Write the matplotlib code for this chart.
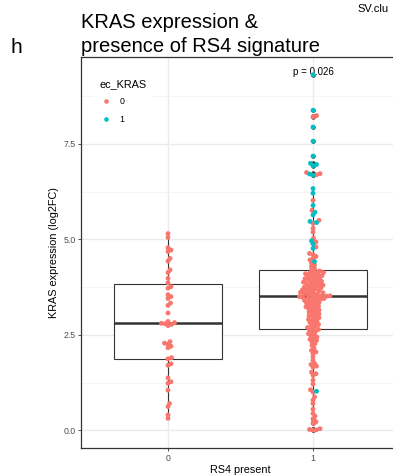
import numpy as np
import matplotlib
matplotlib.use("Agg")
import matplotlib.pyplot as plt
from matplotlib.lines import Line2D

plt.rcParams['font.family'] = ['Liberation Sans', 'DejaVu Sans']

# KRAS expression (log2FC) per sample, split by RS4 presence and ec_KRAS status
rs4_absent_ec0 = [5.15, 5.05, 4.78, 4.72, 4.68, 4.5, 4.43, 4.2, 4.13, 3.98, 3.86,
                  3.76, 3.72, 3.55, 3.5, 3.45, 3.33, 3.27, 3.07, 2.85, 2.82, 2.8,
                  2.79, 2.77, 2.74, 2.32, 2.28, 2.25, 2.2, 2.16, 1.9, 1.87, 1.74,
                  1.7, 1.37, 1.27, 1.23, 1.05, 0.7, 0.62, 0.4, 0.31]

rs4_present_ec1 = [9.31, 8.38, 7.94, 7.57, 7.18, 6.99, 6.96, 6.93, 6.71, 6.68, 6.33,
                   6.21, 5.89, 5.71, 5.64, 5.47, 5.44, 4.96, 4.88, 4.76, 4.42, 1.02]

rs4_present_ec0 = [8.24, 8.21, 6.75, 6.72, 6.69, 6.02, 5.76, 5.5, 5.42, 5.29, 5.19,
                   5.03, 4.93, 4.8, 4.63, 4.6, 4.55, 4.5, 4.46, 4.38, 4.33, 4.29,
                   4.24, 4.2, 4.17,
                   4.15, 4.13, 4.12, 4.1, 4.09, 4.07, 4.05, 4.04, 4.02, 4.0, 3.99,
                   3.97, 3.95, 3.94, 3.92, 3.9, 3.89, 3.88, 3.86, 3.84, 3.83, 3.81,
                   3.8, 3.78, 3.77, 3.75, 3.74, 3.73, 3.71, 3.7, 3.68, 3.67, 3.66,
                   3.64, 3.63, 3.61, 3.6, 3.58, 3.58, 3.57, 3.55, 3.54, 3.52, 3.52,
                   3.51, 3.5, 3.49, 3.48, 3.47, 3.46, 3.45, 3.43, 3.42, 3.4, 3.39,
                   3.37, 3.35, 3.33, 3.31, 3.29, 3.27, 3.25, 3.23, 3.21, 3.19, 3.17,
                   3.15, 3.12, 3.1, 3.08, 3.05, 3.03, 3.0, 2.98, 2.95, 2.93, 2.9,
                   2.88, 2.85, 2.82, 2.8, 2.77, 2.74, 2.72, 2.69, 2.66, 2.64, 2.62,
                   2.59, 2.56, 2.53, 2.5, 2.47, 2.44, 2.41, 2.38, 2.35, 2.31, 2.27,
                   2.22, 2.15, 2.09, 2.05, 2.01, 1.92, 1.83, 1.75, 1.72, 1.68, 1.65,
                   1.52, 1.48, 1.44, 1.31, 1.21, 1.06, 1.0, 0.87, 0.79, 0.7, 0.55,
                   0.44, 0.37, 0.3, 0.22, 0.18, 0.04, 0.02, 0.01, 0.0]

groups = ['0', '1']
p_label = 'p = 0.026'
col_ec = {0: '#F8766D', 1: '#00BFC4'}

W, H = 393, 475
AX_L, AX_B, AX_W, AX_H = 81, 27, 319, 391


def swarm(values, px_y, px_x, diam=3.3, step=0.5):
    """beeswarm-style horizontal offsets (data units) so dots don't collide"""
    y = np.asarray(values) * px_y
    xs = np.zeros(len(y))
    placed = []
    for i in np.argsort(y):
        cands = [0.0]
        for k in range(1, 80):
            cands += [k * step, -k * step]
        for c in cands:
            ok = True
            for (px, py) in placed:
                if abs(py - y[i]) < diam and (px - c) ** 2 + (py - y[i]) ** 2 < diam ** 2:
                    ok = False
                    break
            if ok:
                xs[i] = c
                placed.append((c, y[i]))
                break
    return xs / px_x


fig = plt.figure(figsize=(W / 100, H / 100), dpi=100)
ax = fig.add_axes([AX_L / W, AX_B / H, AX_W / W, AX_H / H])

allv = rs4_absent_ec0 + rs4_present_ec1 + rs4_present_ec0
lo, hi = min(allv), max(allv)
pad = 0.05 * (hi - lo)
ax.set_ylim(lo - pad, hi + pad)
ax.set_xlim(-0.6, 1.6)
px_y = AX_H / (hi - lo + 2 * pad)
px_x = AX_W / 2.2

# boxplots
g1 = rs4_present_ec1 + rs4_present_ec0
ax.boxplot([rs4_absent_ec0, g1], positions=[0, 1], widths=0.75, whis=1.5,
           patch_artist=True, showcaps=False, zorder=2,
           boxprops=dict(facecolor='white', edgecolor='#333333', linewidth=0.8),
           whiskerprops=dict(color='#333333', linewidth=0.8),
           medianprops=dict(color='#333333', linewidth=1.8),
           flierprops=dict(marker='o', markersize=3.2, markerfacecolor='#333333',
                           markeredgecolor='none'))

# swarmed points
for pos, vals, ecs in [(0, rs4_absent_ec0, [0] * len(rs4_absent_ec0)),
                       (1, rs4_present_ec0 + rs4_present_ec1,
                        [0] * len(rs4_present_ec0) + [1] * len(rs4_present_ec1))]:
    off = swarm(vals, px_y, px_x)
    vals = np.asarray(vals)
    ecs = np.asarray(ecs)
    for e in (0, 1):
        m = ecs == e
        if m.any():
            ax.scatter(pos + off[m], vals[m], s=12, color=col_ec[e],
                       edgecolors='none', zorder=3)

ax.text(1, hi, p_label, ha='center', va='baseline', fontsize=7, color='black',
        zorder=2.5)

# grid and axes styling
ax.set_yticks([0, 2.5, 5, 7.5])
ax.set_yticklabels(['0.0', '2.5', '5.0', '7.5'])
ax.set_yticks([1.25, 3.75, 6.25, 8.75], minor=True)
ax.set_xticks([0, 1])
ax.set_xticklabels(groups)
ax.set_axisbelow(True)
ax.grid(which='major', color='#EBEBEB', linewidth=1.0)
ax.grid(which='minor', axis='y', color='#F2F2F2', linewidth=0.6)
ax.tick_params(which='major', length=2.5, width=0.6, color='#333333',
               labelsize=6.3, labelcolor='#4D4D4D', pad=1.5)
ax.tick_params(which='minor', length=0)
for s in ax.spines.values():
    s.set_color('#333333')
    s.set_linewidth(0.9)

ax.set_xlabel('RS4 present', fontsize=7.8, labelpad=2)
ax.set_ylabel('KRAS expression (log2FC)', fontsize=7.8, labelpad=3)

handles = [Line2D([], [], marker='o', ls='', markersize=3.3, color=col_ec[0],
                  markeredgecolor='none', label='0'),
           Line2D([], [], marker='o', ls='', markersize=3.3, color=col_ec[1],
                  markeredgecolor='none', label='1')]
leg = ax.legend(handles=handles, title='ec_KRAS', loc='upper left',
                bbox_to_anchor=(0.028, 0.968), fontsize=6.3, title_fontsize=7.8,
                frameon=True, facecolor='white', edgecolor='none', framealpha=1,
                alignment='left', handletextpad=0.9, labelspacing=1.0,
                borderpad=0.6, handlelength=1.4)
leg.get_title().set_position((0, 0))
leg._legend_box.sep = 6

# panel headings
fig.text(11 / W, 1 - 53 / H, 'h', fontsize=15, va='baseline')
fig.text(AX_L / W, 1 - 52 / H, 'KRAS expression &\npresence of RS4 signature',
         fontsize=14.5, va='baseline', linespacing=1.3)
fig.text(357 / W, 1 - 12 / H, 'SV.clu', fontsize=8, va='baseline')

fig.savefig('out.png', dpi=100)
